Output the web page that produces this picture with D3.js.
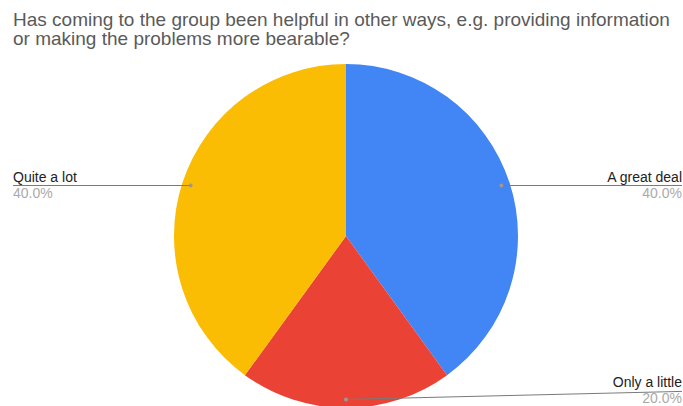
<!DOCTYPE html>
<html>
<head>
<meta charset="utf-8">
<script src="https://cdn.jsdelivr.net/npm/d3@7"></script>
<style>
  body { margin: 0; background: #fff; }
  svg { display: block; font-family: "Liberation Sans", Arial, sans-serif; }
</style>
</head>
<body>
<div id="chart"></div>
<script>
// data
var categories = ["A great deal", "Only a little", "Quite a lot"];
var values = [40, 20, 40];
var colors = ["#4285f4", "#ea4335", "#fbbc04"];
var titleLines = ["Has coming to the group been helpful in other ways, e.g. providing information",
                  "or making the problems more bearable?"];

const W = 683, H = 406;
const cx = 346, cy = 236, radius = 172;

var svg = d3.select("#chart")
    .append("svg")
    .attr("width", W)
    .attr("height", H);

// title
svg.append("g")
    .selectAll("text")
    .data(titleLines)
    .enter()
    .append("text")
    .attr("x", 13)
    .attr("y", function (d, i) { return 26 + i * 19; })
    .attr("font-size", "19px")
    .attr("fill", "#5a5a5a")
    .text(function (d) { return d; });

var data = categories.map(function (c, i) { return { name: c, value: values[i], color: colors[i] }; });
var total = d3.sum(values);

var pie = d3.pie()
    .sort(null)
    .value(function (d) { return d.value; });

var arcs = pie(data);

var arc = d3.arc().innerRadius(0).outerRadius(radius);
var dotArc = d3.arc().innerRadius(radius * 0.95).outerRadius(radius * 0.95);

var g = svg.append("g")
    .attr("transform", "translate(" + cx + "," + cy + ")");

g.selectAll("path")
    .data(arcs)
    .enter()
    .append("path")
    .attr("d", arc)
    .attr("fill", function (d) { return d.data.color; });

// label positions (where the leader line ends, relative to centre)
function labelPos(d) {
    var c = dotArc.centroid(d);
    var right = c[0] >= 0;
    var y = c[1];
    if (Math.abs(c[0]) < 20) { y = c[1] - 8; }   // bottom slice: line rises a little to the label
    return { c: c, right: right, x: right ? W - cx - 1 : 13 - cx, y: y };
}

var labels = g.selectAll(".lbl")
    .data(arcs)
    .enter()
    .append("g")
    .attr("class", "lbl");

labels.append("line")
    .attr("x1", function (d) { return dotArc.centroid(d)[0]; })
    .attr("y1", function (d) { return dotArc.centroid(d)[1]; })
    .attr("x2", function (d) { return labelPos(d).x; })
    .attr("y2", function (d) { return labelPos(d).y; })
    .attr("stroke", "#7a7a7a")
    .attr("stroke-width", 1);

labels.append("circle")
    .attr("cx", function (d) { return dotArc.centroid(d)[0]; })
    .attr("cy", function (d) { return dotArc.centroid(d)[1]; })
    .attr("r", 2)
    .attr("fill", "#999");

labels.append("text")
    .attr("x", function (d) { return labelPos(d).x; })
    .attr("y", function (d) { return labelPos(d).y - 4; })
    .attr("text-anchor", function (d) { return labelPos(d).right ? "end" : "start"; })
    .attr("font-size", "14px")
    .attr("fill", "#222")
    .text(function (d) { return d.data.name; });

labels.append("text")
    .attr("x", function (d) { return labelPos(d).x; })
    .attr("y", function (d) { return labelPos(d).y + 12; })
    .attr("text-anchor", function (d) { return labelPos(d).right ? "end" : "start"; })
    .attr("font-size", "14px")
    .attr("fill", "#aaa")
    .text(function (d) { return (d.data.value / total * 100).toFixed(1) + "%"; });
</script>
</body>
</html>
